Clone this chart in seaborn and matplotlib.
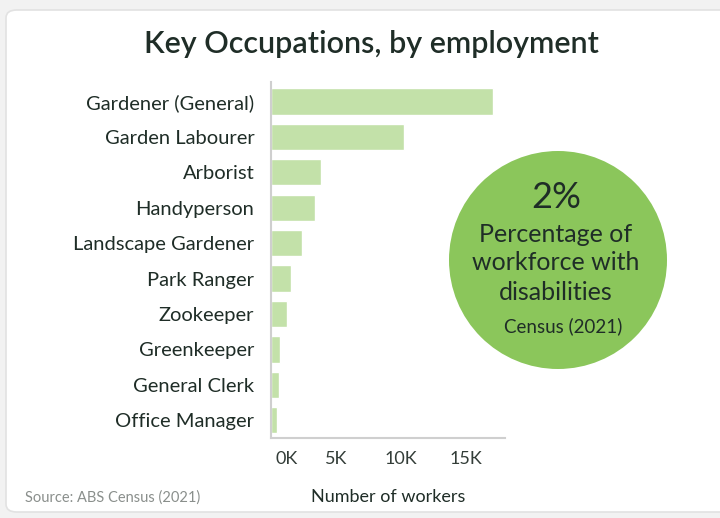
import matplotlib
matplotlib.use("Agg")
import matplotlib.pyplot as plt
from matplotlib.patches import FancyBboxPatch, Ellipse
from matplotlib.transforms import ScaledTranslation
import seaborn as sns
import pandas as pd

occupations = [
    "Gardener (General)", "Garden Labourer", "Arborist", "Handyperson",
    "Landscape Gardener", "Park Ranger", "Zookeeper", "Greenkeeper",
    "General Clerk", "Office Manager",
]
workers = [17100, 10200, 3850, 3400, 2350, 1500, 1200, 700, 600, 450]
tick_values = [0, 5000, 10000, 15000]
tick_labels = ["0K", "5K", "10K", "15K"]

df = pd.DataFrame({"occupation": occupations, "workers": workers})

sns.set_theme(style="white")
plt.rcParams["font.family"] = ["Lato", "DejaVu Sans"]

text_dark = "#1f2d27"
bar_green = "#c3e1a9"
circle_green = "#8bc65b"

fig = plt.figure(figsize=(7.2, 5.18), dpi=100)
fig.patch.set_facecolor("#f2f2f2")

# white card behind everything
card = FancyBboxPatch((6 / 720, 6 / 518), 730 / 720, 502 / 518,
                      boxstyle="round,pad=0,rounding_size=0.015",
                      transform=fig.transFigure, facecolor="white",
                      edgecolor="#e2e2e2", linewidth=1.2, zorder=-2)
fig.patches.append(card)

# highlight circle with the disability figure (ellipse in figure coords = round on screen)
circ = Ellipse((558 / 720, 1 - 260 / 518), 218 / 720, 218 / 518,
               transform=fig.transFigure, facecolor=circle_green,
               edgecolor="none", zorder=-1)
fig.patches.append(circ)

ax = fig.add_axes([271 / 720, 80 / 518, 234 / 720, 356 / 518])
ax.set_zorder(2)
ax.set_facecolor("none")
sns.barplot(data=df, x="workers", y="occupation", orient="h",
            color=bar_green, saturation=1, width=0.74, ax=ax)

ax.set_xlim(0, 18000)
ax.set_ylim(9.5, -0.55)
ax.set_xticks(tick_values)
ax.set_xticklabels(tick_labels)
ax.tick_params(axis="x", length=5, width=1, color="#cfcfcf",
               labelsize=13, pad=4)
ax.tick_params(axis="y", length=0, labelsize=14.5, pad=12)
xlabels = ax.get_xticklabels()
for lab in xlabels:
    lab.set_color("#333d38")
# nudge the zero label off the axis line
xlabels[0].set_horizontalalignment("left")
xlabels[0].set_transform(xlabels[0].get_transform() +
                         ScaledTranslation(4 / 100, 0, fig.dpi_scale_trans))
for lab in ax.get_yticklabels():
    lab.set_color(text_dark)
for s in ["top", "right"]:
    ax.spines[s].set_visible(False)
for s in ["left", "bottom"]:
    ax.spines[s].set_color("#cfcfcf")
    ax.spines[s].set_linewidth(1.5)
ax.set_xlabel("Number of workers", fontsize=13, color=text_dark, labelpad=16)
ax.set_ylabel("")

fig.text(371 / 720, 1 - 44 / 518, "Key Occupations, by employment", ha="center",
         va="center", fontsize=22, fontweight="semibold", color=text_dark,
         zorder=5)
fig.text(25 / 720, 1 - 498 / 518, "Source: ABS Census (2021)", ha="left",
         va="center", fontsize=10.5, color="#8a8f8c", zorder=5)

cx = 556 / 720
fig.text(cx, 1 - 198 / 518, "2%", ha="center", va="center", fontsize=26,
         color=text_dark, zorder=5)
fig.text(cx, 1 - 234 / 518, "Percentage of", ha="center", va="center",
         fontsize=18, color=text_dark, zorder=5)
fig.text(cx, 1 - 263 / 518, "workforce with", ha="center", va="center",
         fontsize=18, color=text_dark, zorder=5)
fig.text(cx, 1 - 292 / 518, "disabilities", ha="center", va="center",
         fontsize=18, color=text_dark, zorder=5)
fig.text(563 / 720, 1 - 326 / 518, "Census (2021)", ha="center",
         va="center", fontsize=13.5, color=text_dark, zorder=5)

fig.savefig("out.png", dpi=100, facecolor=fig.get_facecolor())
